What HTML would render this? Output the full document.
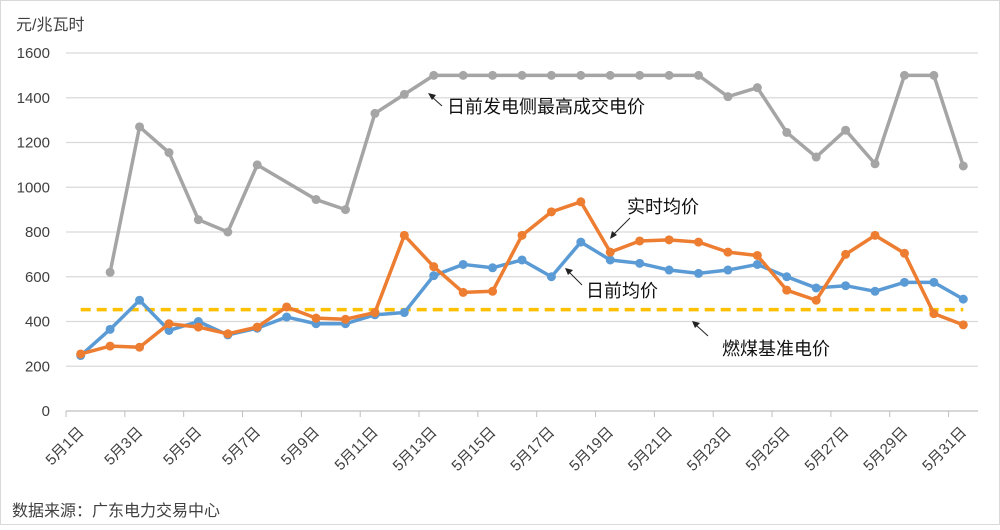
<!DOCTYPE html>
<html><head><meta charset="utf-8"><style>
body{margin:0;background:#fff}
svg text{font-family:"Liberation Sans","Noto Sans CJK SC",sans-serif}
</style></head><body>
<svg width="1000" height="525" xmlns="http://www.w3.org/2000/svg">
<rect x="0.5" y="0.5" width="999" height="524" fill="#fff" stroke="#d9d9d9"/>
<text x="16" y="30" font-size="16" fill="#404040">元/兆瓦时</text>
<g id="grid"></g>
<g id="yt"></g>
<g id="xt"></g>
<g id="series"></g>
<g font-size="18" fill="#111">
<text x="447" y="113">日前发电侧最高成交电价</text>
<line x1="442" y1="106" x2="432" y2="97" stroke="#222"/>
<polygon points="428,93 436,95 432,100" fill="#222"/>
<text x="627" y="213">实时均价</text>
<line x1="630" y1="218" x2="614" y2="234" stroke="#222"/>
<polygon points="610,239 612,231 617,235" fill="#222"/>
<text x="586" y="297">日前均价</text>
<line x1="582" y1="285" x2="569" y2="272" stroke="#222"/>
<polygon points="565,268 573,270 568,275" fill="#222"/>
<text x="722" y="355">燃煤基准电价</text>
<line x1="708" y1="336" x2="696" y2="325" stroke="#222"/>
<polygon points="692,321 700,323 695,328" fill="#222"/>
</g>
<text x="12" y="516" font-size="16" fill="#404040">数据来源：广东电力交易中心</text>
</svg>
<script>
const days=[];for(let i=1;i<=31;i++)days.push(i);
const maxPrice=[null,620,1270,1155,855,800,1100,null,945,900,1330,1415,1500,1500,1500,1500,1500,1500,1500,1500,1500,1500,1405,1445,1245,1135,1255,1105,1500,1500,1095];
const realtime=[255,290,285,390,375,345,375,465,415,410,440,785,645,530,535,785,890,935,710,760,765,755,710,695,540,495,700,785,705,435,385];
const dayAhead=[248,365,495,360,400,340,370,420,390,390,430,440,605,655,640,675,600,755,675,660,630,615,630,655,600,550,560,535,575,575,500];
const coalBase=453;
const yTicks=[0,200,400,600,800,1000,1200,1400,1600];
const NS="http://www.w3.org/2000/svg";
const x0=66,x1=978,y0=411,y1=53;
const step=(x1-x0)/31;
const X=i=>x0+step*(i+0.5);
const Y=v=>y0-(v/1600)*(y0-y1);
function mk(t,a,p){const e=document.createElementNS(NS,t);for(const k in a)e.setAttribute(k,a[k]);p.appendChild(e);return e;}
const grid=document.getElementById('grid'),yt=document.getElementById('yt'),xt=document.getElementById('xt'),ser=document.getElementById('series');
yTicks.forEach(v=>{
 const l=mk('line',{x1:x0,x2:x1,y1:Y(v),y2:Y(v),stroke:v===0?'#bfbfbf':'#d9d9d9','stroke-width':1.3},grid);
 
 
 const t=mk('text',{x:50,y:Y(v)+5,'text-anchor':'end','font-size':15,fill:'#404040'},yt);
 t.textContent=v;
 
 
});
for(let i=0;i<=31;i+=2){
 const tx=x0+step*i;
 const l=mk('line',{x1:tx,x2:tx,y1:y0,y2:y0+6,stroke:'#bfbfbf'},xt);
 
 
}
days.forEach((d,i)=>{
 if(d%2===0)return;
 const t=mk('text',{x:X(i)+4,y:y0+22,'text-anchor':'end','font-size':15,fill:'#404040',transform:`rotate(-45 ${X(i)+4} ${y0+22})`},xt);
 t.textContent='5月'+d+'日';
 
 
});
function series(vals,color,name){
 const pts=[];vals.forEach((v,i)=>{if(v!=null)pts.push([X(i),Y(v)]);});
 const g=mk('g',{},ser);
 
 
 const p=mk('polyline',{points:pts.map(p=>p.join(',')).join(' '),fill:'none',stroke:color,'stroke-width':3.5,'stroke-linejoin':'round'},g);
 
 
 pts.forEach(q=>{const c=mk('circle',{cx:q[0],cy:q[1],r:4.5,fill:color},g);
 
 });
}
series(maxPrice,'#a5a5a5','max-price-series');
const cb=mk('line',{x1:X(0),x2:X(30),y1:Y(coalBase),y2:Y(coalBase),stroke:'#ffc000','stroke-width':3.5,'stroke-dasharray':'10,6'},ser);


series(dayAhead,'#5b9bd5','day-ahead-series');
series(realtime,'#ed7d31','realtime-series');
</script>
</body></html>
